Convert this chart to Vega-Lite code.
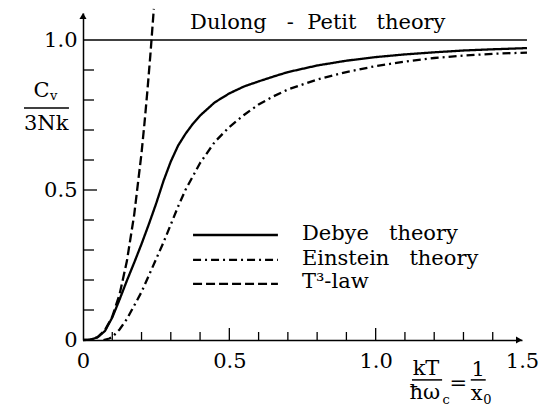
{
  "$schema": "https://vega.github.io/schema/vega-lite/v6.json",
  "width": 439,
  "height": 327,
  "autosize": {"type": "none"},
  "padding": {"left": 83, "top": 13, "right": 20, "bottom": 68},
  "background": "white",
  "config": {"view": {"stroke": null}, "font": "DejaVu Serif"},
  "datasets": {
    "curves": [
      {"series": "Debye theory", "x": 0, "y": 0},
      {"series": "Debye theory", "x": 0.025, "y": 0.001},
      {"series": "Debye theory", "x": 0.05, "y": 0.009},
      {"series": "Debye theory", "x": 0.075, "y": 0.03},
      {"series": "Debye theory", "x": 0.1, "y": 0.075},
      {"series": "Debye theory", "x": 0.125, "y": 0.135},
      {"series": "Debye theory", "x": 0.15, "y": 0.198},
      {"series": "Debye theory", "x": 0.175, "y": 0.258},
      {"series": "Debye theory", "x": 0.2, "y": 0.32},
      {"series": "Debye theory", "x": 0.225, "y": 0.386},
      {"series": "Debye theory", "x": 0.25, "y": 0.455},
      {"series": "Debye theory", "x": 0.275, "y": 0.53},
      {"series": "Debye theory", "x": 0.3, "y": 0.595},
      {"series": "Debye theory", "x": 0.325, "y": 0.648},
      {"series": "Debye theory", "x": 0.35, "y": 0.687},
      {"series": "Debye theory", "x": 0.375, "y": 0.72},
      {"series": "Debye theory", "x": 0.4, "y": 0.748},
      {"series": "Debye theory", "x": 0.45, "y": 0.792},
      {"series": "Debye theory", "x": 0.5, "y": 0.822},
      {"series": "Debye theory", "x": 0.55, "y": 0.845},
      {"series": "Debye theory", "x": 0.6, "y": 0.862},
      {"series": "Debye theory", "x": 0.65, "y": 0.878},
      {"series": "Debye theory", "x": 0.7, "y": 0.893},
      {"series": "Debye theory", "x": 0.8, "y": 0.915},
      {"series": "Debye theory", "x": 0.9, "y": 0.931},
      {"series": "Debye theory", "x": 1.0, "y": 0.943},
      {"series": "Debye theory", "x": 1.1, "y": 0.952},
      {"series": "Debye theory", "x": 1.2, "y": 0.959},
      {"series": "Debye theory", "x": 1.3, "y": 0.965},
      {"series": "Debye theory", "x": 1.4, "y": 0.969},
      {"series": "Debye theory", "x": 1.517, "y": 0.973},
      {"series": "Einstein theory", "x": 0.07, "y": 0},
      {"series": "Einstein theory", "x": 0.09, "y": 0.005},
      {"series": "Einstein theory", "x": 0.1, "y": 0.01},
      {"series": "Einstein theory", "x": 0.125, "y": 0.035},
      {"series": "Einstein theory", "x": 0.15, "y": 0.07},
      {"series": "Einstein theory", "x": 0.175, "y": 0.115},
      {"series": "Einstein theory", "x": 0.2, "y": 0.16},
      {"series": "Einstein theory", "x": 0.225, "y": 0.215},
      {"series": "Einstein theory", "x": 0.25, "y": 0.27},
      {"series": "Einstein theory", "x": 0.275, "y": 0.325},
      {"series": "Einstein theory", "x": 0.3, "y": 0.385},
      {"series": "Einstein theory", "x": 0.325, "y": 0.445},
      {"series": "Einstein theory", "x": 0.35, "y": 0.5},
      {"series": "Einstein theory", "x": 0.375, "y": 0.545},
      {"series": "Einstein theory", "x": 0.4, "y": 0.59},
      {"series": "Einstein theory", "x": 0.45, "y": 0.66},
      {"series": "Einstein theory", "x": 0.5, "y": 0.71},
      {"series": "Einstein theory", "x": 0.55, "y": 0.75},
      {"series": "Einstein theory", "x": 0.6, "y": 0.785},
      {"series": "Einstein theory", "x": 0.65, "y": 0.812},
      {"series": "Einstein theory", "x": 0.7, "y": 0.835},
      {"series": "Einstein theory", "x": 0.8, "y": 0.868},
      {"series": "Einstein theory", "x": 0.9, "y": 0.893},
      {"series": "Einstein theory", "x": 1.0, "y": 0.913},
      {"series": "Einstein theory", "x": 1.1, "y": 0.928},
      {"series": "Einstein theory", "x": 1.2, "y": 0.94},
      {"series": "Einstein theory", "x": 1.3, "y": 0.948},
      {"series": "Einstein theory", "x": 1.4, "y": 0.954},
      {"series": "Einstein theory", "x": 1.517, "y": 0.958},
      {"series": "T3-law", "x": 0, "y": 0},
      {"series": "T3-law", "x": 0.025, "y": 0.0012},
      {"series": "T3-law", "x": 0.05, "y": 0.0097},
      {"series": "T3-law", "x": 0.075, "y": 0.033},
      {"series": "T3-law", "x": 0.1, "y": 0.078},
      {"series": "T3-law", "x": 0.125, "y": 0.152},
      {"series": "T3-law", "x": 0.15, "y": 0.263},
      {"series": "T3-law", "x": 0.175, "y": 0.418},
      {"series": "T3-law", "x": 0.2, "y": 0.623},
      {"series": "T3-law", "x": 0.21, "y": 0.722},
      {"series": "T3-law", "x": 0.22, "y": 0.83},
      {"series": "T3-law", "x": 0.23, "y": 0.948},
      {"series": "T3-law", "x": 0.242, "y": 1.104}
    ],
    "legendLines": [
      {"series": "Debye theory", "x": 0.376, "x2": 0.666, "y": 0.35},
      {"series": "Einstein theory", "x": 0.376, "x2": 0.666, "y": 0.267},
      {"series": "T3-law", "x": 0.376, "x2": 0.666, "y": 0.187}
    ],
    "bigLeft": [
      {"x": 0.366, "y": 1.037, "text": "Dulong\u00a0\u00a0\u00a0-\u00a0\u00a0Petit\u00a0\u00a0\u00a0theory"},
      {"x": 0.748, "y": 0.333, "text": "Debye\u00a0\u00a0\u00a0theory"},
      {"x": 0.748, "y": 0.25, "text": "Einstein\u00a0\u00a0\u00a0theory"},
      {"x": 0.748, "y": 0.173, "text": "T³-law"}
    ],
    "bigCenter": [
      {"x": -0.142, "y": 0.81, "text": "C"},
      {"x": -0.126, "y": 0.70, "text": "3Nk"},
      {"x": 1.172, "y": -0.117, "text": "kT"},
      {"x": 1.168, "y": -0.197, "text": "ħω"},
      {"x": 1.282, "y": -0.165, "text": "="},
      {"x": 1.35, "y": -0.12, "text": "1"},
      {"x": 1.345, "y": -0.2, "text": "x"}
    ],
    "smallLeft": [
      {"x": -0.113, "y": 0.8, "text": "v"},
      {"x": 1.228, "y": -0.212, "text": "c"},
      {"x": 1.368, "y": -0.212, "text": "0"}
    ],
    "bars": [
      {"x": -0.2016, "x2": -0.048, "y": 0.773},
      {"x": 1.124, "x2": 1.227, "y": -0.133},
      {"x": 1.325, "x2": 1.376, "y": -0.133}
    ],
    "yMinorTicks": [
      {"x": 0, "y": 0.1}, {"x": 0, "y": 0.2}, {"x": 0, "y": 0.3}, {"x": 0, "y": 0.4},
      {"x": 0, "y": 0.6}, {"x": 0, "y": 0.7}, {"x": 0, "y": 0.8}, {"x": 0, "y": 0.9}
    ],
    "yMajorTicks": [{"x": 0, "y": 0.5}],
    "xMinorTicks": [
      {"x": 0.1, "y": 0}, {"x": 0.2, "y": 0}, {"x": 0.3, "y": 0}, {"x": 0.4, "y": 0},
      {"x": 0.6, "y": 0}, {"x": 0.7, "y": 0}, {"x": 0.8, "y": 0}, {"x": 0.9, "y": 0},
      {"x": 1.1, "y": 0}, {"x": 1.2, "y": 0}, {"x": 1.3, "y": 0}, {"x": 1.4, "y": 0}
    ],
    "xMajorTicks": [{"x": 0.5, "y": 0}, {"x": 1.0, "y": 0}]
  },
  "layer": [
    {
      "data": {"name": "curves"},
      "mark": {"type": "line", "strokeWidth": 2.3, "color": "black"},
      "encoding": {
        "x": {
          "field": "x", "type": "quantitative", "title": null,
          "scale": {"domain": [0, 1.5], "nice": false, "zero": false},
          "axis": {
            "values": [0, 0.5, 1, 1.5],
            "ticks": false,
            "labelExpr": "datum.value == 0 ? '0' : format(datum.value, '.1f')",
            "labelPadding": 10, "labelFontSize": 21, "labelFont": "DejaVu Serif", "labelColor": "black",
            "labelAngle": 0, "labelOverlap": false, "labelFlush": false,
            "domainColor": "black", "domainWidth": 1.5, "grid": false
          }
        },
        "y": {
          "field": "y", "type": "quantitative", "title": null,
          "scale": {"domain": [0, 1.09], "nice": false, "zero": false},
          "axis": {
            "values": [0, 0.5, 1],
            "ticks": false,
            "labelExpr": "datum.value == 0 ? '0' : format(datum.value, '.1f')",
            "labelPadding": 6, "labelFontSize": 21, "labelFont": "DejaVu Serif", "labelColor": "black",
            "labelOverlap": false, "labelFlush": false,
            "domainColor": "black", "domainWidth": 1.5, "grid": false
          }
        },
        "strokeDash": {
          "field": "series", "type": "nominal",
          "scale": {"domain": ["Debye theory", "Einstein theory", "T3-law"], "range": [[1, 0], [8, 4, 2, 4], [9, 4]]},
          "legend": null
        }
      }
    },
    {
      "data": {"values": [{"x": 0, "x2": 1.517, "y": 1}]},
      "mark": {"type": "rule", "strokeWidth": 1.5, "color": "black"},
      "encoding": {
        "x": {"field": "x", "type": "quantitative", "title": null, "scale": {"domain": [0, 1.5], "nice": false, "zero": false}},
        "x2": {"field": "x2"},
        "y": {"field": "y", "type": "quantitative", "title": null, "scale": {"domain": [0, 1.09], "nice": false, "zero": false}}
      }
    },
    {
      "data": {"name": "yMinorTicks"},
      "mark": {"type": "tick", "orient": "horizontal", "size": 11, "thickness": 1.3, "xOffset": 5.5, "color": "black", "opacity": 1},
      "encoding": {
        "x": {"field": "x", "type": "quantitative", "title": null, "scale": {"domain": [0, 1.5], "nice": false, "zero": false}},
        "y": {"field": "y", "type": "quantitative", "title": null, "scale": {"domain": [0, 1.09], "nice": false, "zero": false}}
      }
    },
    {
      "data": {"name": "yMajorTicks"},
      "mark": {"type": "tick", "orient": "horizontal", "size": 14, "thickness": 1.3, "xOffset": 7, "color": "black", "opacity": 1},
      "encoding": {
        "x": {"field": "x", "type": "quantitative", "title": null, "scale": {"domain": [0, 1.5], "nice": false, "zero": false}},
        "y": {"field": "y", "type": "quantitative", "title": null, "scale": {"domain": [0, 1.09], "nice": false, "zero": false}}
      }
    },
    {
      "data": {"name": "xMinorTicks"},
      "mark": {"type": "tick", "orient": "vertical", "size": 8, "thickness": 1.3, "yOffset": -4, "color": "black", "opacity": 1},
      "encoding": {
        "x": {"field": "x", "type": "quantitative", "title": null, "scale": {"domain": [0, 1.5], "nice": false, "zero": false}},
        "y": {"field": "y", "type": "quantitative", "title": null, "scale": {"domain": [0, 1.09], "nice": false, "zero": false}}
      }
    },
    {
      "data": {"name": "xMajorTicks"},
      "mark": {"type": "tick", "orient": "vertical", "size": 12, "thickness": 1.3, "yOffset": -6, "color": "black", "opacity": 1},
      "encoding": {
        "x": {"field": "x", "type": "quantitative", "title": null, "scale": {"domain": [0, 1.5], "nice": false, "zero": false}},
        "y": {"field": "y", "type": "quantitative", "title": null, "scale": {"domain": [0, 1.09], "nice": false, "zero": false}}
      }
    },
    {
      "data": {"name": "legendLines"},
      "mark": {"type": "rule", "strokeWidth": 2.3, "color": "black"},
      "encoding": {
        "x": {"field": "x", "type": "quantitative", "title": null, "scale": {"domain": [0, 1.5], "nice": false, "zero": false}},
        "x2": {"field": "x2"},
        "y": {"field": "y", "type": "quantitative", "title": null, "scale": {"domain": [0, 1.09], "nice": false, "zero": false}},
        "strokeDash": {
          "field": "series", "type": "nominal",
          "scale": {"domain": ["Debye theory", "Einstein theory", "T3-law"], "range": [[1, 0], [8, 4, 2, 4], [9, 4]]},
          "legend": null
        }
      }
    },
    {
      "data": {"name": "bars"},
      "mark": {"type": "rule", "strokeWidth": 1.5, "color": "black"},
      "encoding": {
        "x": {"field": "x", "type": "quantitative", "title": null, "scale": {"domain": [0, 1.5], "nice": false, "zero": false}},
        "x2": {"field": "x2"},
        "y": {"field": "y", "type": "quantitative", "title": null, "scale": {"domain": [0, 1.09], "nice": false, "zero": false}}
      }
    },
    {
      "data": {"name": "bigLeft"},
      "mark": {"type": "text", "font": "DejaVu Serif", "fontSize": 21, "align": "left", "baseline": "alphabetic", "color": "black"},
      "encoding": {
        "x": {"field": "x", "type": "quantitative", "title": null, "scale": {"domain": [0, 1.5], "nice": false, "zero": false}},
        "y": {"field": "y", "type": "quantitative", "title": null, "scale": {"domain": [0, 1.09], "nice": false, "zero": false}},
        "text": {"field": "text"}
      }
    },
    {
      "data": {"name": "bigCenter"},
      "mark": {"type": "text", "font": "DejaVu Serif", "fontSize": 21, "align": "center", "baseline": "alphabetic", "color": "black"},
      "encoding": {
        "x": {"field": "x", "type": "quantitative", "title": null, "scale": {"domain": [0, 1.5], "nice": false, "zero": false}},
        "y": {"field": "y", "type": "quantitative", "title": null, "scale": {"domain": [0, 1.09], "nice": false, "zero": false}},
        "text": {"field": "text"}
      }
    },
    {
      "data": {"name": "smallLeft"},
      "mark": {"type": "text", "font": "DejaVu Serif", "fontSize": 13, "align": "left", "baseline": "alphabetic", "color": "black"},
      "encoding": {
        "x": {"field": "x", "type": "quantitative", "title": null, "scale": {"domain": [0, 1.5], "nice": false, "zero": false}},
        "y": {"field": "y", "type": "quantitative", "title": null, "scale": {"domain": [0, 1.09], "nice": false, "zero": false}},
        "text": {"field": "text"}
      }
    },
    {
      "data": {"values": [{"x": 1.49, "y": 0}]},
      "mark": {"type": "point", "shape": "triangle-right", "filled": true, "size": 50, "color": "black", "opacity": 1},
      "encoding": {
        "x": {"field": "x", "type": "quantitative", "title": null, "scale": {"domain": [0, 1.5], "nice": false, "zero": false}},
        "y": {"field": "y", "type": "quantitative", "title": null, "scale": {"domain": [0, 1.09], "nice": false, "zero": false}}
      }
    },
    {
      "data": {"values": [{"x": 0, "y": 1.08}]},
      "mark": {"type": "point", "shape": "triangle-up", "filled": true, "size": 50, "color": "black", "opacity": 1},
      "encoding": {
        "x": {"field": "x", "type": "quantitative", "title": null, "scale": {"domain": [0, 1.5], "nice": false, "zero": false}},
        "y": {"field": "y", "type": "quantitative", "title": null, "scale": {"domain": [0, 1.09], "nice": false, "zero": false}}
      }
    }
  ]
}
